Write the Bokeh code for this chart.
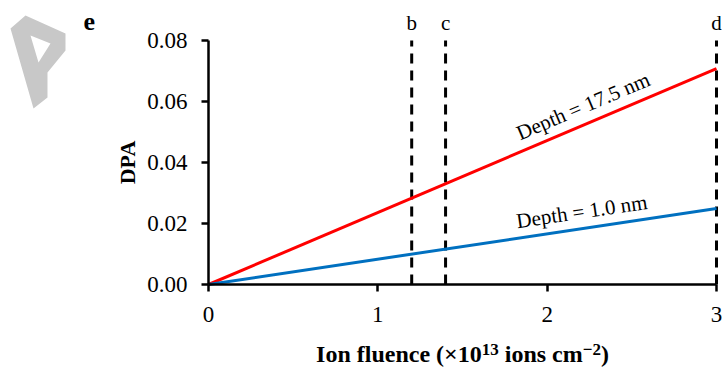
from bokeh.plotting import figure
from bokeh.models import Range1d, FixedTicker
from bokeh.core.properties import value
from bokeh.embed import file_html
from bokeh.resources import INLINE
import math

# ---- data ----
fluence = [0.0, 3.0]
dpa_17_5 = [0.0, 0.0708]
dpa_1_0 = [0.0, 0.0249]
marker_x = [1.2, 1.4, 3.0]
marker_labels = ["b", "c", "d"]
x_ticks = [0, 1, 2, 3]
y_ticks = [0.00, 0.02, 0.04, 0.06, 0.08]
label_17_5 = "Depth = 17.5 nm"
label_1_0 = "Depth = 1.0 nm"
x_label_parts = [("Ion fluence (\u00d710", False), ("13", True), (" ions cm", False),
                 ("\u22122", True), (")", False)]
y_label = "DPA"
panel_letter = "e"

W, H = 724, 370
FONT = "Liberation Serif"
# pixel positions of the data box (0..3, 0..0.08) on the canvas
L, R, T, B = 208, 716, 40, 284
XMAX, YMAX = 3.0, 0.08
ppx = (R - L) / XMAX
ppy = (B - T) / YMAX
def dx(px):
    return (px - L) / ppx
def dy(py):
    return (B - py) / ppy
def base_y(py, size):
    # place an alphabetic baseline at canvas row py
    return dy(py - 0.36 * size)

p = figure(width=W, height=H, output_backend="svg", toolbar_location=None,
           x_range=Range1d(dx(0), dx(W)), y_range=Range1d(dy(H), dy(0)),
           min_border_left=0, min_border_right=0, min_border_top=0,
           min_border_bottom=0)
p.outline_line_color = None
p.grid.visible = False
p.background_fill_color = "white"
p.border_fill_color = "white"

for ax in (p.xaxis[0], p.yaxis[0]):
    ax.fixed_location = 0
    ax.axis_line_width = 2.5
    ax.axis_line_color = "black"
    ax.major_tick_line_width = 2.5
    ax.major_tick_line_color = "black"
    ax.major_tick_out = 7
    ax.major_tick_in = 0
    ax.minor_tick_line_color = None
    ax.major_label_text_font = FONT
    ax.major_label_text_font_size = "23px"
    ax.major_label_text_color = "black"

p.xaxis.bounds = (0, XMAX)
p.yaxis.bounds = (0, YMAX)
p.xaxis.ticker = FixedTicker(ticks=x_ticks)
p.yaxis.ticker = FixedTicker(ticks=y_ticks)
p.yaxis.major_label_overrides = {t: f"{t:.2f}" for t in y_ticks}
p.xaxis.major_label_overrides = {t: str(t) for t in x_ticks}
p.xaxis.major_label_standoff = 15
p.yaxis.major_label_standoff = 14

# dashed markers
for xm in marker_x:
    p.line([xm, xm], [y_ticks[0], y_ticks[-1]], line_color="black", line_width=3,
           line_dash="10 7")

p.line(fluence, dpa_17_5, line_color="#ff0000", line_width=3)
p.line(fluence, dpa_1_0, line_color="#0070c0", line_width=3)

# rotated labels along lines
ang_r = math.atan((dpa_17_5[1] / fluence[1]) * ppy / ppx)
ang_b = math.atan((dpa_1_0[1] / fluence[1]) * ppy / ppx)
xr = 2.24
p.text(x=[xr], y=[dpa_17_5[1] / fluence[1] * xr], text=[label_17_5], angle=ang_r,
       text_align="center", text_baseline="bottom", y_offset=-6,
       text_font=value(FONT), text_font_size="21px", text_color="black")
xb = 2.215
p.text(x=[xb], y=[dpa_1_0[1] / fluence[1] * xb], text=[label_1_0], angle=ang_b,
       text_align="center", text_baseline="bottom", y_offset=-5,
       text_font=value(FONT), text_font_size="21px", text_color="black")

# marker letters above the dashed lines
p.text(x=marker_x, y=[base_y(30, 21)] * len(marker_x), text=marker_labels,
       text_align="center", text_baseline="alphabetic",
       text_font=value(FONT), text_font_size="21px", text_color="black")

# panel letter
p.text(x=[dx(83)], y=[base_y(30, 26)], text=[panel_letter], text_align="left",
       text_baseline="alphabetic", text_font=value(FONT), text_font_size="26px",
       text_font_style="bold", text_color="black")

# y-axis title
p.text(x=[dx(127)], y=[dy(162)], text=[y_label], angle=math.pi / 2,
       text_align="center", text_baseline="middle", text_font=value(FONT),
       text_font_size="22px", text_font_style="bold", text_color="black")

# x-axis title composed with real superscripts (Times-Bold metrics)
widths = {"I": 389, "o": 500, "n": 556, " ": 250, "f": 333, "l": 278, "u": 556,
          "e": 444, "c": 444, "(": 333, "\u00d7": 570, "1": 500, "0": 500, "3": 500,
          "i": 278, "s": 389, "m": 833, "\u2212": 570, "2": 500, ")": 333}
MAIN, SUP = 24, 17
def wpx(s, size):
    return sum(widths.get(ch, 500) for ch in s) / 1000 * size
total = sum(wpx(s, SUP if sup else MAIN) for s, sup in x_label_parts)
cur = (L + R) / 2 - total / 2
for s, sup in x_label_parts:
    size = SUP if sup else MAIN
    lead = len(s) - len(s.lstrip(" "))
    cur += wpx(" " * lead, size)
    body = s.strip(" ")
    base = 355 if sup else 362
    p.text(x=[dx(cur)], y=[base_y(base, size)], text=[body], text_align="left",
           text_baseline="alphabetic", text_font=value(FONT),
           text_font_size=f"{size}px", text_font_style="bold", text_color="black")
    cur += wpx(s.lstrip(" "), size)

# grey decorative mark (top-left)
outer = [(25, 15), (65, 33), (65, 50), (47, 72), (47, 97), (33, 108), (10, 28)]
hole = [(30, 35), (50, 43), (38, 62)]
p.multi_polygons(xs=[[[[dx(a) for a, b in outer], [dx(a) for a, b in hole]]]],
                 ys=[[[[dy(b) for a, b in outer], [dy(b) for a, b in hole]]]],
                 fill_color="#c8c8c8", line_color=None)

open("out.html", "w").write(file_html(p, INLINE))
